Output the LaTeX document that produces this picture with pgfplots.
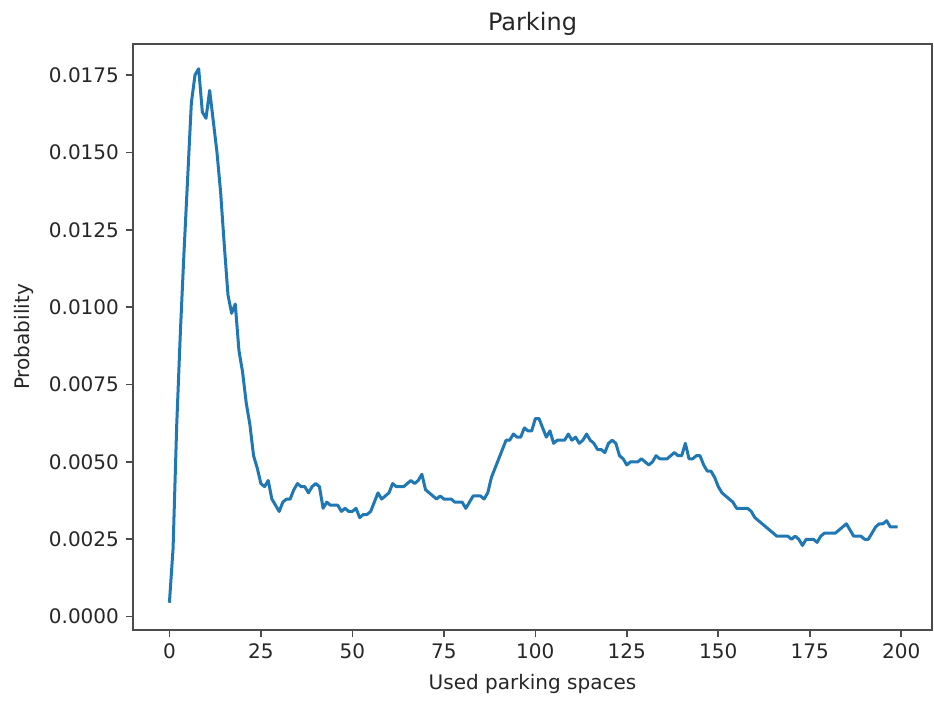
\documentclass[border=0pt]{standalone}
\usepackage{fontspec}
\setmainfont{DejaVu Sans}
\usepackage{pgfplots}
\pgfplotsset{compat=1.18}
\definecolor{mplblue}{HTML}{1F77B4}
\pgfplotstableread{
x y
0 0.00045
1 0.0022
2 0.0062
3 0.0092
4 0.0118
5 0.0142
6 0.0166
7 0.0175
8 0.0177
9 0.0163
10 0.0161
11 0.0170
12 0.0160
13 0.0150
14 0.0137
15 0.0120
16 0.0104
17 0.0098
18 0.0101
19 0.0086
20 0.0079
21 0.0069
22 0.0062
23 0.0052
24 0.0048
25 0.0043
26 0.0042
27 0.0044
28 0.0038
29 0.0036
30 0.0034
31 0.0037
32 0.0038
33 0.0038
34 0.0041
35 0.0043
36 0.0042
37 0.0042
38 0.0040
39 0.0042
40 0.0043
41 0.0042
42 0.0035
43 0.0037
44 0.0036
45 0.0036
46 0.0036
47 0.0034
48 0.0035
49 0.0034
50 0.0034
51 0.0035
52 0.0032
53 0.0033
54 0.0033
55 0.0034
56 0.0037
57 0.0040
58 0.0038
59 0.0039
60 0.0040
61 0.0043
62 0.0042
63 0.0042
64 0.0042
65 0.0043
66 0.0044
67 0.0043
68 0.0044
69 0.0046
70 0.0041
71 0.0040
72 0.0039
73 0.0038
74 0.0039
75 0.0038
76 0.0038
77 0.0038
78 0.0037
79 0.0037
80 0.0037
81 0.0035
82 0.0037
83 0.0039
84 0.0039
85 0.0039
86 0.0038
87 0.0040
88 0.0045
89 0.0048
90 0.0051
91 0.0054
92 0.0057
93 0.0057
94 0.0059
95 0.0058
96 0.0058
97 0.0061
98 0.0060
99 0.0060
100 0.0064
101 0.0064
102 0.0061
103 0.0058
104 0.0060
105 0.0056
106 0.0057
107 0.0057
108 0.0057
109 0.0059
110 0.0057
111 0.0058
112 0.0056
113 0.0057
114 0.0059
115 0.0057
116 0.0056
117 0.0054
118 0.0054
119 0.0053
120 0.0056
121 0.0057
122 0.0056
123 0.0052
124 0.0051
125 0.0049
126 0.0050
127 0.0050
128 0.0050
129 0.0051
130 0.0050
131 0.0049
132 0.0050
133 0.0052
134 0.0051
135 0.0051
136 0.0051
137 0.0052
138 0.0053
139 0.0052
140 0.0052
141 0.0056
142 0.0051
143 0.0051
144 0.0052
145 0.0052
146 0.0049
147 0.0047
148 0.0047
149 0.0045
150 0.0042
151 0.0040
152 0.0039
153 0.0038
154 0.0037
155 0.0035
156 0.0035
157 0.0035
158 0.0035
159 0.0034
160 0.0032
161 0.0031
162 0.0030
163 0.0029
164 0.0028
165 0.0027
166 0.0026
167 0.0026
168 0.0026
169 0.0026
170 0.0025
171 0.0026
172 0.0025
173 0.0023
174 0.0025
175 0.0025
176 0.0025
177 0.0024
178 0.0026
179 0.0027
180 0.0027
181 0.0027
182 0.0027
183 0.0028
184 0.0029
185 0.0030
186 0.0028
187 0.0026
188 0.0026
189 0.0026
190 0.0025
191 0.0025
192 0.0027
193 0.0029
194 0.0030
195 0.0030
196 0.0031
197 0.0029
198 0.0029
199 0.0029
}\parkdata
\begin{document}
\begin{tikzpicture}
\begin{axis}[
  scale only axis,
  width=399.5pt, height=293pt,
  xmin=-9.95, xmax=208.4,
  ymin=-0.00043, ymax=0.0185,
  xtick={0,25,50,75,100,125,150,175,200},
  ytick={0,0.0025,0.005,0.0075,0.01,0.0125,0.015,0.0175},
  scaled y ticks=false,
  yticklabel style={/pgf/number format/.cd, fixed, fixed zerofill, precision=4},
  /pgf/number format/assume math mode=true,
  tick align=outside, tick pos=left,
  major tick length=3.5pt,
  axis line style={black!70, line width=0.8pt},
  every tick/.style={black!70, line width=0.8pt},
  ticklabel style={text=black!85},
  every axis title shift=0pt,
  title={Parking},
  title style={font=\fontsize{12}{14}\selectfont, at={(axis description cs:0.5,1)}, anchor=base, yshift=6.5pt, text=black!85},
  xlabel={Used parking spaces},
  xlabel style={at={(axis description cs:0.5,0)}, anchor=base, yshift=-30pt, text=black!85},
  ylabel={Probability},
  ylabel style={at={(axis description cs:0,0.5)}, anchor=base, yshift=51.5pt, text=black!85},
]
\addplot[mplblue, line width=1.5pt, line join=round] table[x=x, y=y] {\parkdata};
\end{axis}
\path ([shift={(-66.5pt,-34pt)}]current axis.south west) rectangle ++(467pt,349pt);
\end{tikzpicture}
\end{document}
